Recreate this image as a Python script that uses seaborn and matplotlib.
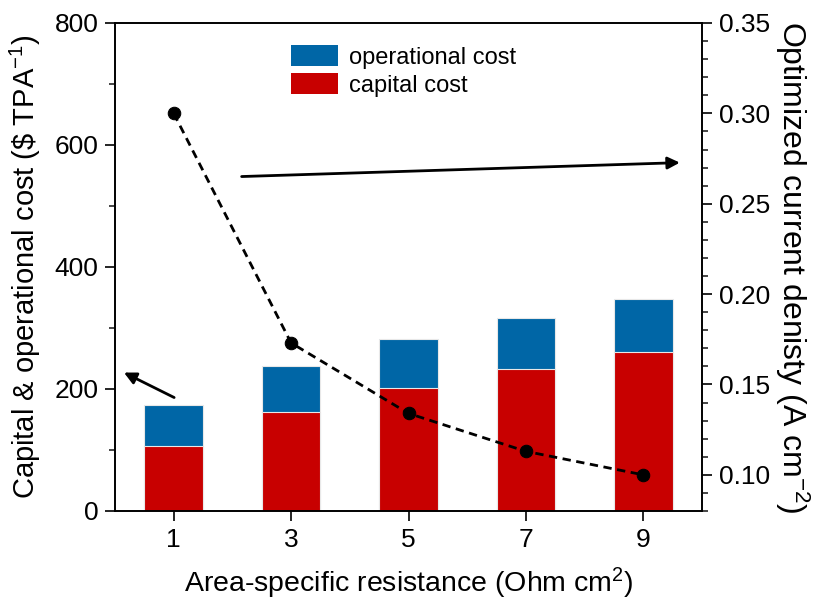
import numpy as np
import pandas as pd
import matplotlib
matplotlib.use("Agg")
import matplotlib.pyplot as plt
from matplotlib.patches import Patch
from matplotlib.ticker import MultipleLocator, FormatStrFormatter
import seaborn as sns

# ---- data ----
asr = [1, 3, 5, 7, 9]
capital_cost = [106, 162, 202, 233, 260]
operational_cost = [68, 75, 80, 84, 88]
current_density = [0.300, 0.173, 0.134, 0.113, 0.100]

total_cost = [c + o for c, o in zip(capital_cost, operational_cost)]
df = pd.DataFrame({"asr": asr, "capital": capital_cost,
                   "total": total_cost, "cd": current_density})

BLUE = "#0066A6"
RED = "#C80000"

sns.set_theme(style="ticks")
plt.rcParams["font.family"] = ["Liberation Sans", "DejaVu Sans"]
plt.rcParams["mathtext.fontset"] = "custom"
plt.rcParams["mathtext.rm"] = "Liberation Sans"
plt.rcParams["mathtext.it"] = "Liberation Sans:italic"
plt.rcParams["mathtext.bf"] = "Liberation Sans:bold"
plt.rcParams["text.color"] = "black"
plt.rcParams["axes.labelcolor"] = "black"

fig = plt.figure(figsize=(8.16, 6.10), dpi=100)
ax = fig.add_axes([115 / 816, 1 - 511 / 610, (702 - 115) / 816, (511 - 23) / 610])

sns.barplot(data=df, x="asr", y="total", native_scale=True, width=0.5,
            color=BLUE, saturation=1, edgecolor="#e8e8e8", linewidth=0.8, ax=ax)
sns.barplot(data=df, x="asr", y="capital", native_scale=True, width=0.5,
            color=RED, saturation=1, edgecolor="#e8e8e8", linewidth=0.8, ax=ax)

ax.set_xlim(0, 10)
ax.set_ylim(0, 800)
ax.set_xticks(asr)
ax.set_xticklabels([str(v) for v in asr])
ax.yaxis.set_major_locator(MultipleLocator(200))
ax.yaxis.set_minor_locator(MultipleLocator(100))

ax2 = ax.twinx()
sns.lineplot(data=df, x="asr", y="cd", ax=ax2, color="black", linestyle=(0, (3, 2)),
             linewidth=2.0, marker="o", markersize=9, markeredgecolor="black")
ax2.set_ylim(0.08, 0.35)
ax2.yaxis.set_major_locator(MultipleLocator(0.05))
ax2.yaxis.set_minor_locator(MultipleLocator(0.01))
ax2.yaxis.set_major_formatter(FormatStrFormatter("%.2f"))

for a in (ax, ax2):
    for s in a.spines.values():
        s.set_visible(True)
        s.set_linewidth(1.2)
        s.set_color("black")
ax.tick_params(axis="both", which="major", direction="out", length=7, width=1.2,
               labelsize=19, colors="black", pad=5)
ax.tick_params(axis="y", which="minor", direction="out", length=4, width=1.2)
ax.tick_params(axis="x", which="minor", length=0)
ax2.tick_params(axis="y", which="major", direction="out", length=7, width=1.2,
                labelsize=19, colors="black", pad=5)
ax2.tick_params(axis="y", which="minor", direction="out", length=4, width=1.2)

ax.set_xlabel(r"Area-specific resistance (Ohm cm$^{2}$)", fontsize=20.5,
              labelpad=10, color="black")
ax.set_ylabel(r"Capital & operational cost (\$ TPA$^{-1}$)", fontsize=21,
              labelpad=8, color="black")
ax2.set_ylabel(r"Optimized current denisty (A cm$^{-2}$)", fontsize=23,
               rotation=270, labelpad=30, color="black")

# arrows
ax.annotate("", xy=(0.11, 229), xytext=(1.05, 184),
            arrowprops=dict(arrowstyle="-|>", lw=2, color="black", mutation_scale=18))
ax2.annotate("", xy=(9.67, 0.2728), xytext=(2.11, 0.265),
             arrowprops=dict(arrowstyle="-|>", lw=2, color="black", mutation_scale=18))

handles = [Patch(facecolor=BLUE, edgecolor="none", label="operational cost"),
           Patch(facecolor=RED, edgecolor="none", label="capital cost")]
leg = ax2.legend(handles=handles, loc="upper left", bbox_to_anchor=(0.30, 0.955),
                 frameon=False, fontsize=17, handlelength=2.0, handleheight=1.0,
                 handletextpad=0.45, labelspacing=0.2, borderpad=0, borderaxespad=0)
for t in leg.get_texts():
    t.set_color("black")

fig.savefig("out.png", dpi=100)
